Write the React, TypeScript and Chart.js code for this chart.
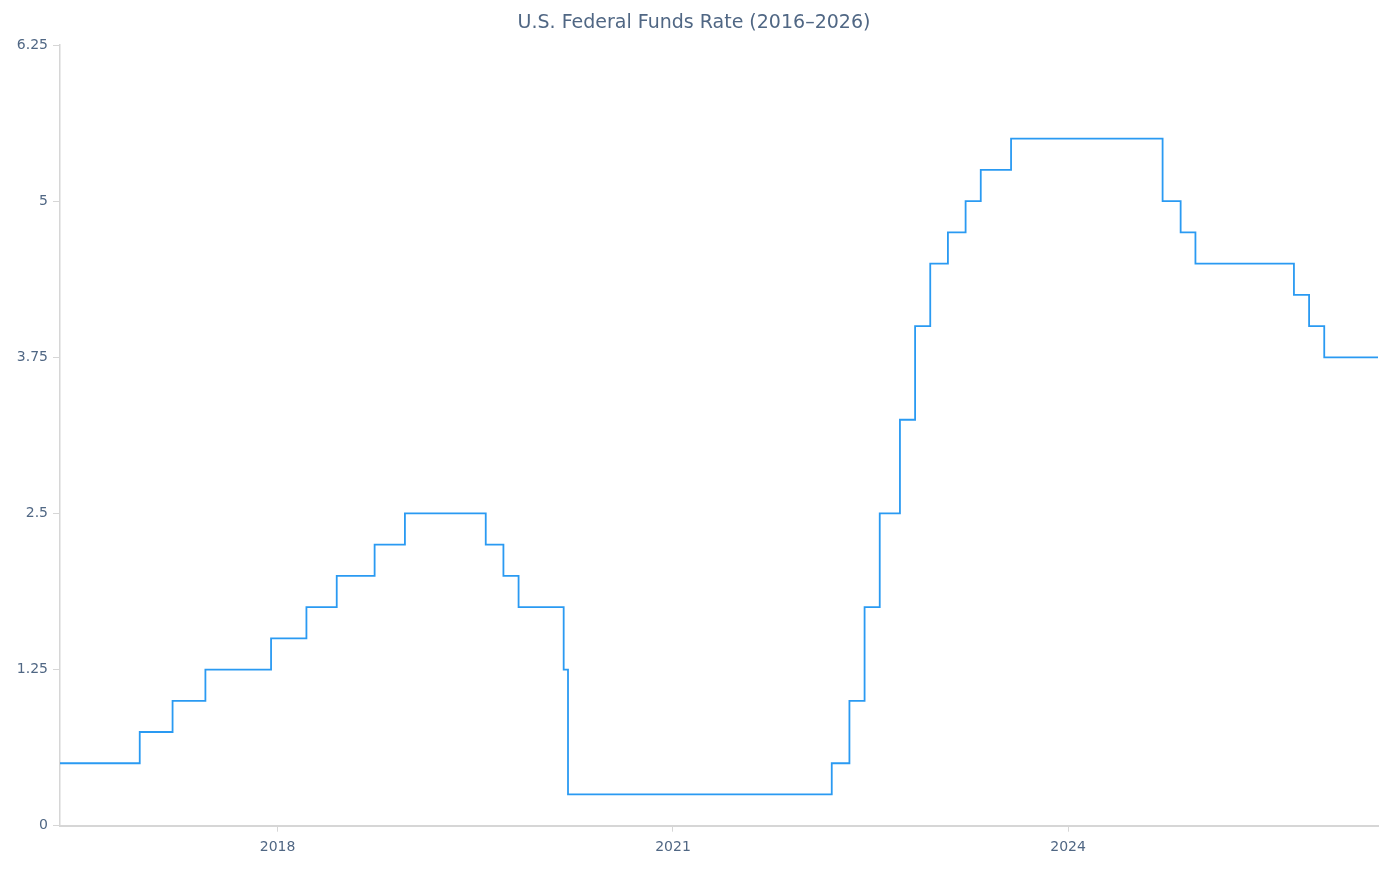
import React, { useEffect, useRef } from "react";
import { Chart, registerables } from "chart.js";

Chart.register(...registerables);

// Dates of rate changes (upper bound of target range), plus start/end of series
const changeDates: string[] = [
  "2016-05-08",
  "2016-12-15",
  "2017-03-16",
  "2017-06-15",
  "2017-12-14",
  "2018-03-22",
  "2018-06-14",
  "2018-09-27",
  "2018-12-20",
  "2019-08-01",
  "2019-09-19",
  "2019-10-31",
  "2020-03-04",
  "2020-03-16",
  "2022-03-17",
  "2022-05-05",
  "2022-06-16",
  "2022-07-28",
  "2022-09-22",
  "2022-11-03",
  "2022-12-15",
  "2023-02-02",
  "2023-03-23",
  "2023-05-04",
  "2023-07-27",
  "2024-09-19",
  "2024-11-08",
  "2024-12-19",
  "2025-09-18",
  "2025-10-30",
  "2025-12-11",
  "2026-05-09",
];

const rateValues: number[] = [
  0.5, 0.75, 1.0, 1.25, 1.5, 1.75, 2.0, 2.25, 2.5, 2.25, 2.0, 1.75, 1.25, 0.25,
  0.5, 1.0, 1.75, 2.5, 3.25, 4.0, 4.5, 4.75, 5.0, 5.25, 5.5, 5.0, 4.75, 4.5,
  4.25, 4.0, 3.75, 3.75,
];

const xTickYears: number[] = [2018, 2021, 2024];
const yTickValues: number[] = [0, 1.25, 2.5, 3.75, 5, 6.25];

const titleText = "U.S. Federal Funds Rate (2016–2026)";
const xMinDate = "2016-05-08";
const xMaxDate = "2026-05-09";

const toMs = (d: string) => {
  const [y, m, day] = d.split("-").map(Number);
  return Date.UTC(y, m - 1, day);
};

const TEXT = "#506784";
const AXIS = "#d6d6d6";
const LINE = "#2a9af2";
const FONT = "'DejaVu Sans', Verdana, sans-serif";

// shift the title box so it is centred like the reference
const titleShift = {
  id: "titleShift",
  afterLayout(chart: any) {
    const tb = chart.titleBlock;
    if (tb) {
      tb.left += 5;
      tb.right += 5;
    }
  },
};

export default function App() {
  const ref = useRef<HTMLCanvasElement | null>(null);

  useEffect(() => {
    if (!ref.current) return;
    const points = changeDates.map((d, i) => ({ x: toMs(d), y: rateValues[i] }));
    const chart = new Chart(ref.current, {
      type: "line",
      data: {
        datasets: [
          {
            label: "Federal Funds Rate",
            data: points,
            stepped: "before",
            borderColor: LINE,
            borderWidth: 1.8,
            pointRadius: 0,
            fill: false,
          },
        ],
      },
      plugins: [titleShift],
      options: {
        animation: false,
        responsive: false,
        maintainAspectRatio: false,
        layout: { padding: { left: 0, right: 22, top: 0, bottom: 0 } },
        plugins: {
          legend: { display: false },
          tooltip: { enabled: false },
          title: {
            display: true,
            text: titleText,
            color: TEXT,
            font: { family: FONT, size: 19, weight: "normal" },
            padding: { top: 12, bottom: 10.2 },
          },
        },
        scales: {
          x: {
            type: "linear",
            min: toMs(xMinDate),
            max: toMs(xMaxDate),
            afterBuildTicks: (scale: any) => {
              scale.ticks = xTickYears.map((y) => ({ value: Date.UTC(y, 0, 1) }));
            },
            afterFit: (scale: any) => {
              scale.height = 49.3;
            },
            ticks: {
              color: TEXT,
              font: { family: FONT, size: 14 },
              padding: 7,
              maxRotation: 0,
              autoSkip: false,
              callback: (v: any) => String(new Date(v).getUTCFullYear()),
            },
            grid: {
              display: true,
              drawOnChartArea: false,
              drawTicks: true,
              tickLength: 6,
              color: AXIS,
            },
            border: { display: true, color: AXIS, width: 2 },
          },
          y: {
            min: 0,
            max: 6.25,
            afterBuildTicks: (scale: any) => {
              scale.ticks = yTickValues.map((v) => ({ value: v }));
            },
            afterFit: (scale: any) => {
              scale.width = 60;
            },
            ticks: {
              color: TEXT,
              font: { family: FONT, size: 14 },
              padding: 5,
              autoSkip: false,
              callback: (v: any) => String(v),
            },
            grid: {
              display: true,
              drawOnChartArea: false,
              drawTicks: true,
              tickLength: 7,
              color: AXIS,
            },
            border: { display: true, color: AXIS, width: 1.5 },
          },
        },
      },
    });
    return () => chart.destroy();
  }, []);

  return (
    <div style={{ position: "fixed", left: 0, top: 0, width: 1400, height: 875, background: "#fff" }}>
      <canvas ref={ref} width={1400} height={875} style={{ width: 1400, height: 875, display: "block" }} />
    </div>
  );
}
